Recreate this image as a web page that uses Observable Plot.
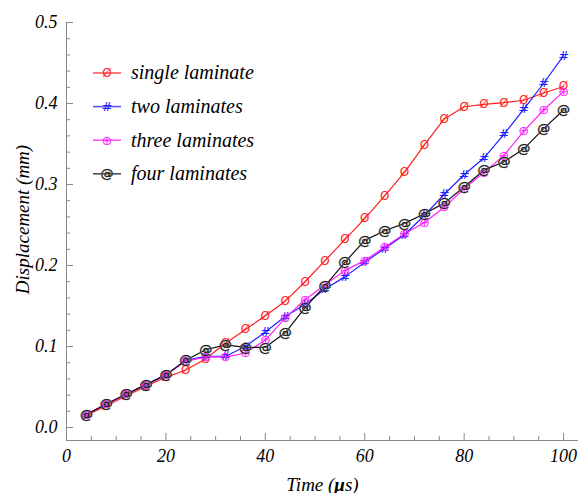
<!DOCTYPE html>
<html><head><meta charset="utf-8">
<script src="https://cdn.jsdelivr.net/npm/d3@7"></script>
<script src="https://cdn.jsdelivr.net/npm/@observablehq/plot@0.6"></script>
<style>
body{margin:0;background:#fff}
#wrap{position:relative;width:581px;height:493px}
#legend{position:absolute;left:0;top:0;pointer-events:none}
</style>
</head><body><div id="wrap"></div>
<script>
const time = [4,8,12,16,20,24,28,32,36,40,44,48,52,56,60,64,68,72,76,80,84,88,92,96,100];
const single = [0.015,0.027,0.039,0.051,0.062,0.071,0.085,0.104,0.121,0.138,0.156,0.180,0.206,0.232,0.258,0.286,0.315,0.349,0.381,0.396,0.399,0.401,0.404,0.413,0.421];
const two    = [0.016,0.029,0.041,0.053,0.065,0.083,0.088,0.088,0.100,0.118,0.137,0.152,0.171,0.186,0.204,0.221,0.238,0.262,0.288,0.312,0.333,0.362,0.393,0.425,0.459];
const three  = [0.016,0.029,0.041,0.053,0.065,0.082,0.087,0.087,0.092,0.108,0.135,0.158,0.176,0.194,0.206,0.223,0.239,0.253,0.272,0.295,0.315,0.336,0.366,0.392,0.415];
const four   = [0.016,0.029,0.041,0.053,0.065,0.083,0.096,0.102,0.099,0.099,0.117,0.148,0.175,0.204,0.231,0.243,0.252,0.264,0.277,0.297,0.318,0.328,0.344,0.369,0.392];

const seriesNames = ["single laminate","two laminates","three laminates","four laminates"];
const seriesValues = [single, two, three, four];
const seriesColors = ["#ff1f1f","#2020ff","#ff20ff","#111111"];
const seriesSymbols = ["Ø","#","⊕","@"];

const xMajor = [0,20,40,60,80,100];
const xMinor = [5,10,15,25,30,35,45,50,55,65,70,75,85,90,95];
const yMajor = [0,0.1,0.2,0.3,0.4,0.5];
const yMinor = [0.02,0.04,0.06,0.08,0.12,0.14,0.16,0.18,0.22,0.24,0.26,0.28,0.32,0.34,0.36,0.38,0.42,0.44,0.46,0.48];

const xDomain = [0,103];
const yDomain = [-0.016,0.5];

const rows = [];
seriesNames.forEach((s,i)=>time.forEach((t,j)=>rows.push({s, t, v: seriesValues[i][j], sym: seriesSymbols[i]})));

const SERIF = "Liberation Serif";
const W=581,H=493,mL=66,mR=3,mT=22,mB=53;
const xPx = (W-mL-mR)/(xDomain[1]-xDomain[0]);
const yPx = (H-mT-mB)/(yDomain[1]-yDomain[0]);
const tickLenMaj = 7, tickLenMin = 4;
const gray = "#8a8a8a";
const markOpts = {x:"t", y:"v", text:"sym", fill:"s", fontFamily:"DejaVu Sans", fontStyle:"normal"};

const chart = Plot.plot({
  width: W, height: H, marginLeft: mL, marginRight: mR, marginTop: mT, marginBottom: mB,
  x: {domain: xDomain},
  y: {domain: yDomain},
  color: {domain: seriesNames, range: seriesColors},
  style: {fontFamily: SERIF, fontStyle: "italic", fontSize: "17px", background: "white", color: "black"},
  marks: [
    Plot.ruleY([yDomain[0]], {stroke: gray}),
    Plot.ruleX([xDomain[0]], {stroke: gray}),
    Plot.ruleX(xMajor, {y1: yDomain[0], y2: yDomain[0] + tickLenMaj/yPx, stroke: gray}),
    Plot.ruleX(xMinor, {y1: yDomain[0], y2: yDomain[0] + tickLenMin/yPx, stroke: gray}),
    Plot.ruleY(yMajor, {x1: xDomain[0], x2: xDomain[0] + tickLenMaj/xPx, stroke: gray}),
    Plot.ruleY(yMinor, {x1: xDomain[0], x2: xDomain[0] + tickLenMin/xPx, stroke: gray}),
    Plot.axisX(xMajor, {tickSize: 0, tickPadding: 9, label: null, tickFormat: d => String(d), fontSize: 18, fontFamily: SERIF}),
    Plot.axisY(yMajor, {tickSize: 0, tickPadding: 9, label: null, tickFormat: d => d.toFixed(1), fontSize: 18, fontFamily: SERIF}),
    Plot.text(["Time (μs)"], {frameAnchor: "bottom", lineAnchor: "bottom", textAnchor: "middle", dy: 50, fontSize: 19, fontFamily: SERIF}),
    Plot.text(["Displacement (mm)"], {frameAnchor: "left", textAnchor: "middle", lineAnchor: "middle", rotate: -90, dx: -44, dy: -12, fontSize: 19, fontFamily: SERIF}),
    Plot.line(rows, {x: "t", y: "v", z: "s", stroke: "s", strokeWidth: 1.2}),
    Plot.text(rows.filter(d=>d.s===seriesNames[0]), {...markOpts, fontSize: 12}),
    Plot.text(rows.filter(d=>d.s===seriesNames[1]), {...markOpts, fontSize: 13}),
    Plot.text(rows.filter(d=>d.s===seriesNames[2]), {...markOpts, fontSize: 13}),
    Plot.text(rows.filter(d=>d.s===seriesNames[3]), {...markOpts, fontSize: 13, stroke:"#999", strokeWidth:0.7, paintOrder:"stroke"})
  ]
});

d3.select(chart).selectAll("text").each(function(){
  if (this.textContent === "Time (μs)") {
    this.innerHTML = 'Time (<tspan font-weight="bold">μ</tspan>s)';
  }
});

const wrap = document.getElementById("wrap");
wrap.appendChild(chart);

// legend overlay
const lg = d3.select(wrap).append("svg").attr("id","legend").attr("width",W).attr("height",H);
const legendX = 93, legendY = 73, legendStep = 33.6;
seriesNames.forEach((s,i)=>{
  const y = legendY + i*legendStep;
  const g = lg.append("g");
  g.append("line").attr("x1",legendX).attr("x2",legendX+28).attr("y1",y).attr("y2",y)
    .attr("stroke",seriesColors[i]).attr("stroke-width",1.6).attr("stroke-opacity",0.75);
  const m = g.append("text").attr("x",legendX+14).attr("y",y).attr("dy","0.35em")
    .attr("text-anchor","middle").attr("font-family","DejaVu Sans")
    .attr("font-size", i===0?12:13).attr("fill",seriesColors[i]).text(seriesSymbols[i]);
  if (i===3) m.attr("stroke","#999").attr("stroke-width",0.7).attr("paint-order","stroke");
  g.append("text").attr("x",legendX+38).attr("y",y).attr("dy","0.32em")
    .attr("font-family",SERIF).attr("font-style","italic").attr("font-size",20)
    .attr("fill","black").text(s);
});
</script>
</body></html>
